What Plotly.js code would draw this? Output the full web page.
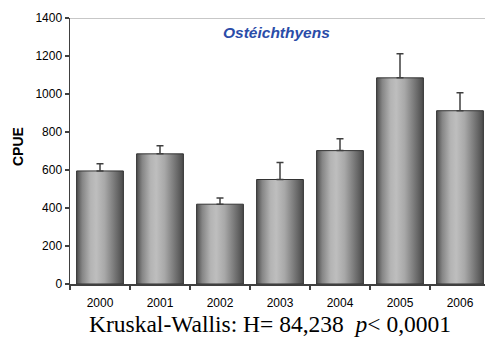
<!DOCTYPE html>
<html>
<head>
<meta charset="utf-8">
<script src="https://cdn.plot.ly/plotly-3.0.1.min.js"></script>
<style>
html,body{margin:0;padding:0;background:#fff;}
#chart{width:485px;height:338px;}
</style>
</head>
<body>
<div id="chart"></div>
<script>
const years = ["2000", "2001", "2002", "2003", "2004", "2005", "2006"];
const cpue = [595, 685, 420, 550, 702, 1085, 912];
const errUp = [38, 43, 33, 90, 62, 127, 95];
const yTicks = [0, 200, 400, 600, 800, 1000, 1200, 1400];
const groupTitle = "Ostéichthyens";
const yTitle = "CPUE";
const statText = "Kruskal-Wallis: H= 84,238  <i>p</i>< 0,0001";

const trace = {
  type: "bar",
  x: years,
  y: cpue,
  marker: { color: "#9a9a9a", line: { color: "#333333", width: 1 } },
  error_y: {
    type: "data", symmetric: false, array: errUp,
    arrayminus: errUp.map(() => 0),
    color: "#404040", thickness: 1.5, width: 3.5
  },
  hoverinfo: "none"
};

const layout = {
  width: 485, height: 338,
  margin: { l: 70, r: 0, t: 18, b: 54 },
  paper_bgcolor: "#ffffff", plot_bgcolor: "#ffffff",
  showlegend: false,
  bargap: 0.22,
  font: { family: "Arial, 'Liberation Sans', sans-serif", color: "#000", size: 12 },
  xaxis: {
    type: "category", range: [-0.5, 6.5 - 5/60],
    tickson: "boundaries", ticks: "outside", ticklen: 4, tickcolor: "#404040", tickwidth: 1.5,
    ticklabelstandoff: 7,
    showline: true, linecolor: "#404040", linewidth: 1.5,
    showgrid: false, zeroline: false,
    tickfont: { size: 12, color: "#000" }
  },
  yaxis: {
    range: [0, 1400], tickvals: yTicks, ticktext: yTicks.map(String),
    ticks: "outside", ticklen: 4, tickcolor: "#404040", tickwidth: 1.5,
    showline: true, linecolor: "#404040", linewidth: 1.5,
    showgrid: false, zeroline: false,
    tickfont: { size: 12, color: "#000" }
  },
  shapes: [{
    type: "line", xref: "paper", yref: "y", x0: 0, x1: 1, y0: 1400, y1: 1400,
    line: { color: "#b4b4b4", width: 1.5 }
  }],
  annotations: [
    { text: "<b><i>" + groupTitle + "</i></b>", xref: "paper", yref: "paper",
      x: (276 - 70) / 415, y: (284 - 32) / 266, xanchor: "center", yanchor: "middle",
      showarrow: false, font: { size: 15.5, color: "#2a4ca8" } },
    { text: "<b>" + yTitle + "</b>", xref: "paper", yref: "paper",
      x: (17.5 - 70) / 415, y: (284 - 146.5) / 266, xanchor: "center", yanchor: "middle", textangle: -90,
      showarrow: false, font: { size: 14, color: "#000" } },
    { text: statText, xref: "paper", yref: "paper",
      x: (270 - 70) / 415, y: (284 - 324) / 266, xanchor: "center", yanchor: "middle",
      showarrow: false, font: { family: "'Liberation Serif', 'Times New Roman', serif", size: 23.5, color: "#000" } }
  ]
};

Plotly.newPlot("chart", [trace], layout, { staticPlot: true, displayModeBar: false }).then(gd => {
  const svg = gd.querySelector(".main-svg");
  const ns = "http://www.w3.org/2000/svg";
  let defs = svg.querySelector("defs");
  if (!defs) { defs = document.createElementNS(ns, "defs"); svg.insertBefore(defs, svg.firstChild); }
  const g = document.createElementNS(ns, "linearGradient");
  g.setAttribute("id", "barGrad");
  g.setAttribute("x1", "0"); g.setAttribute("x2", "1"); g.setAttribute("y1", "0"); g.setAttribute("y2", "0");
  const stops = [[0, "#4c4c4c"], [0.12, "#858585"], [0.3, "#b4b4b4"], [0.42, "#bebebe"], [0.6, "#a8a8a8"], [0.8, "#7a7a7a"], [1, "#4a4a4a"]];
  stops.forEach(([o, c]) => {
    const s = document.createElementNS(ns, "stop");
    s.setAttribute("offset", o); s.setAttribute("stop-color", c);
    g.appendChild(s);
  });
  defs.appendChild(g);
  gd.querySelectorAll(".bars .point path").forEach(p => { p.style.fill = "url(#barGrad)"; });
});
</script>
</body>
</html>
